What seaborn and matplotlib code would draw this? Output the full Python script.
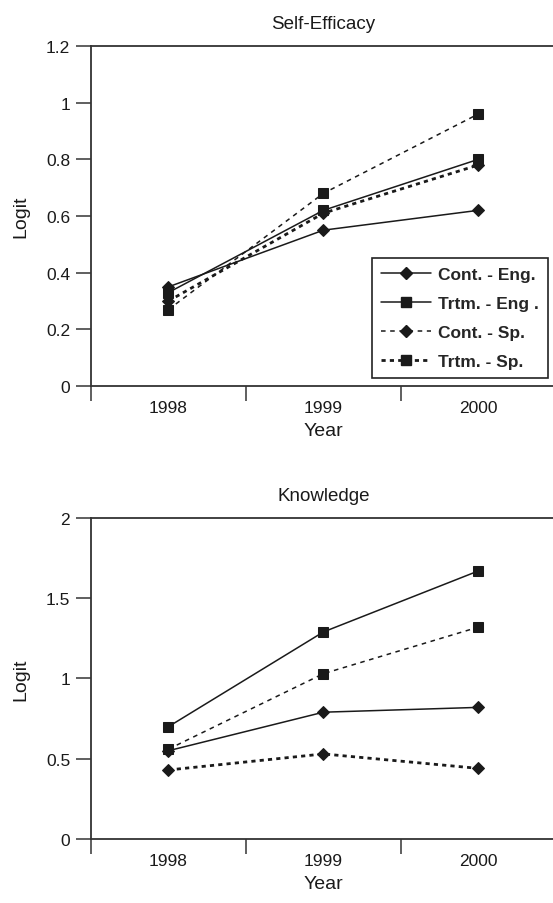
import matplotlib
matplotlib.use("Agg")
import matplotlib.pyplot as plt
from matplotlib.lines import Line2D
import seaborn as sns
import pandas as pd

years = ["1998", "1999", "2000"]
series = ["Cont. - Eng.", "Trtm. - Eng .", "Cont. - Sp.", "Trtm. - Sp."]

self_eff = {
    "Cont. - Eng.": [0.35, 0.55, 0.62],
    "Trtm. - Eng .": [0.33, 0.62, 0.80],
    "Cont. - Sp.": [0.30, 0.61, 0.78],
    "Trtm. - Sp.": [0.27, 0.68, 0.96],
}
knowledge = {
    "Cont. - Eng.": [0.55, 0.79, 0.82],
    "Trtm. - Eng .": [0.70, 1.29, 1.67],
    "Cont. - Sp.": [0.43, 0.53, 0.44],
    "Trtm. - Sp.": [0.56, 1.03, 1.32],
}

sns.set_theme(style="white")
plt.rcParams["font.family"] = ["Liberation Sans", "DejaVu Sans"]

ink = "#1a1a1a"
markers = {"Cont. - Eng.": "D", "Trtm. - Eng .": "s", "Cont. - Sp.": "D", "Trtm. - Sp.": "s"}
msize = {"D": 6, "s": 6.5}
# styles of the drawn lines
line_style = {
    "Cont. - Eng.": dict(lw=1.1, ls="-"),
    "Trtm. - Eng .": dict(lw=1.1, ls="-"),
    "Cont. - Sp.": dict(lw=2.0, ls=(0, (1.5, 1.5))),
    "Trtm. - Sp.": dict(lw=1.1, ls=(0, (3, 3))),
}
# styles shown in legend
leg_style = {
    "Cont. - Eng.": dict(lw=1.1, ls="-"),
    "Trtm. - Eng .": dict(lw=1.1, ls="-"),
    "Cont. - Sp.": dict(lw=1.1, ls=(0, (3, 3))),
    "Trtm. - Sp.": dict(lw=2.0, ls=(0, (1.5, 1.5))),
}

fig = plt.figure(figsize=(5.53, 9.04), dpi=100)
ax1 = fig.add_axes([0.1646, 0.5719, 0.8404, 0.3761])
ax2 = fig.add_axes([0.1646, 0.0708, 0.8404, 0.3551])


def draw(ax, data, title, ylim, yticks, yticklabels):
    for s in series:
        df = pd.DataFrame({"Year": years, "Logit": data[s]})
        st = line_style[s]
        m = markers[s]
        sns.lineplot(data=df, x="Year", y="Logit", ax=ax, color=ink,
                     marker=m, markersize=msize[m], markeredgecolor=ink,
                     linewidth=st["lw"], linestyle=st["ls"], legend=False)
    ax.set_xlim(-0.5, 2.5)
    ax.set_ylim(*ylim)
    ax.set_yticks(yticks)
    ax.set_yticklabels(yticklabels)
    ax.set_xticks([0, 1, 2])
    ax.set_xticks([-0.5, 0.5, 1.5, 2.5], minor=True)
    ax.tick_params(axis="x", which="major", length=0, labelsize=12.5, pad=10, colors=ink)
    ax.tick_params(axis="x", which="minor", length=11, width=1.2, color="#444444", direction="out", bottom=True)
    ax.tick_params(axis="y", which="major", length=11, width=1.2, color="#444444", direction="out", left=True,
                   labelsize=12.5, pad=4, labelcolor=ink)
    for side in ["left", "bottom", "top"]:
        ax.spines[side].set_visible(True)
        ax.spines[side].set_color("#333333")
        ax.spines[side].set_linewidth(1.3)
    ax.spines["right"].set_visible(False)
    ax.set_title(title, fontsize=13.5, pad=13, color=ink)
    ax.set_xlabel("Year", fontsize=14, labelpad=5, color=ink)
    ax.set_ylabel("Logit", fontsize=14, labelpad=12, color=ink)
    ax.grid(False)


draw(ax1, self_eff, "Self-Efficacy", (0, 1.2), [0, 0.2, 0.4, 0.6, 0.8, 1.0, 1.2],
     ["0", "0.2", "0.4", "0.6", "0.8", "1", "1.2"])
draw(ax2, knowledge, "Knowledge", (0, 2), [0, 0.5, 1, 1.5, 2], ["0", "0.5", "1", "1.5", "2"])

handles = []
for s in series:
    st = leg_style[s]
    m = markers[s]
    handles.append(Line2D([0], [0], color=ink, lw=st["lw"], ls=st["ls"], marker=m,
                          markersize=msize[m], markeredgecolor=ink))
leg = ax1.legend(handles, series, loc="lower right", bbox_to_anchor=(0.983, 0.0235),
                 borderaxespad=0, fancybox=False, edgecolor="#222222", framealpha=1,
                 prop={"weight": "bold", "size": 12.5}, handlelength=2.9, labelspacing=0.8,
                 borderpad=0.5, handletextpad=0.4)
leg.get_frame().set_linewidth(1.2)

fig.savefig("out.png", dpi=100)
